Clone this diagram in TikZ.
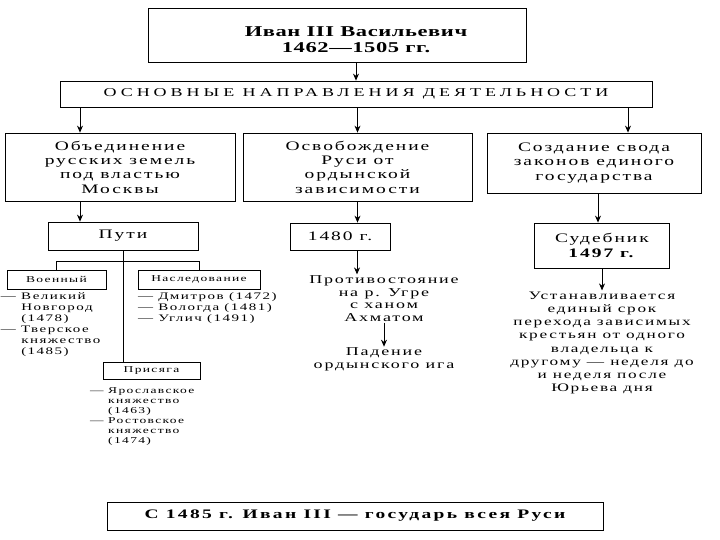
\documentclass[tikz,border=0pt]{standalone}
\usepackage{fontspec}
\setmainfont{Liberation Serif}[FakeStretch=1.5]
\newfontfamily\titlef{Liberation Serif}[FakeStretch=1.5, LetterSpace=4]
\newfontfamily\boxf{Liberation Serif}[FakeStretch=1.5, LetterSpace=15]
\newfontfamily\finalf{Liberation Serif}[FakeStretch=1.5, LetterSpace=18]
\newfontfamily\capsf{Liberation Serif}[FakeStretch=1.5, LetterSpace=33]
\usetikzlibrary{positioning, arrows.meta}

\begin{document}
\begin{tikzpicture}[x=1pt, y=-1pt, line width=0.8pt, >={Stealth[length=7pt, width=6pt]},
  box/.style = {draw, inner sep=1pt, align=center},
  txt/.style = {inner sep=1pt, align=center},
  list/.style = {inner sep=0pt, align=left},
  big/.style = {font=\boxf\fontsize{13}{14.3}\selectfont},
  small/.style = {font=\boxf\fontsize{9}{10}\selectfont}]
\useasboundingbox (0,0) rectangle (720,540);

% top
\node[box, minimum width=378, minimum height=54] (ivan) at (337,35) {};
\node[txt, font=\titlef\bfseries\fontsize{15}{16}\selectfont] (ivanname) at (356,40) {Иван III Васильевич\\1462—1505 гг.};
\node[box, minimum width=592, minimum height=26, font=\capsf\fontsize{12}{13}\selectfont] (osn) at (356,94) {ОСНОВНЫЕ НАПРАВЛЕНИЯ ДЕЯТЕЛЬНОСТИ};

% three directions
\node[box, big, minimum width=230, minimum height=68] (unite) at (120,167) {Объединение\\русских земель\\под властью\\Москвы};
\node[box, big, minimum width=229, minimum height=68] (free) at (357.5,167) {Освобождение\\Руси от\\ордынской\\зависимости};
\node[box, big, minimum width=214, minimum height=60] (code) at (594,163) {Создание свода\\законов единого\\государства};

\node[box, big, minimum width=150, minimum height=28] (puti) at (123,236) {Пути};
\node[box, big, minimum width=100, minimum height=27] (y1480) at (340,236.5) {1480 г.};
\node[box, big, minimum width=135, minimum height=45] (sud) at (602,245.5) {Судебник\\\textbf{1497 г.}};

% ways
\node[box, small, minimum width=99, minimum height=19] (war) at (56.5,279.5) {Военный};
\node[box, small, minimum width=122, minimum height=19] (heir) at (199,279.5) {Наследование};
\node[box, small, minimum width=97, minimum height=17] (oath) at (151.5,371) {Присяга};

\node[list, font=\boxf\fontsize{10}{11}\selectfont, below right=3pt and -6pt of war.south west] (warlist)
  {— Великий\\\hphantom{— }Новгород\\\hphantom{— }(1478)\\— Тверское\\\hphantom{— }княжество\\\hphantom{— }(1485)};
\node[list, font=\boxf\fontsize{10}{11}\selectfont, below right=3pt and 0pt of heir.south west] (heirlist)
  {— Дмитров (1472)\\— Вологда (1481)\\— Углич (1491)};
\node[list, small, below right=7pt and -13pt of oath.south west] (oathlist)
  {— Ярославское\\\hphantom{— }княжество\\\hphantom{— }(1463)\\— Ростовское\\\hphantom{— }княжество\\\hphantom{— }(1474)};

% results
\node[txt, font=\boxf\fontsize{12}{12.5}\selectfont, below=24pt of y1480, xshift=44pt] (ugra) {Противостояние\\на р. Угре\\с ханом\\Ахматом};
\node[txt, font=\boxf\fontsize{12}{12.5}\selectfont, below=24pt of ugra] (fall) {Падение\\ордынского ига};
\node[txt, font=\boxf\fontsize{11.5}{13.2}\selectfont, below=22pt of sud] (rule) {Устанавливается\\единый срок\\перехода зависимых\\крестьян от одного\\владельца к\\другому — неделя до\\и неделя после\\Юрьева дня};

\node[box, minimum width=496, minimum height=28, font=\finalf\bfseries\fontsize{13}{14}\selectfont] (final) at (355,516) {С 1485 г. Иван III — государь всея Руси};

\draw[->] (osn.north |- ivan.south) -- (osn.north);
\draw[->] ([xshift=-40pt]unite.north |- osn.south) -- ([xshift=-40pt]unite.north);
\draw[->] (free.north |- osn.south) -- (free.north);
\draw[->] ([xshift=34pt]code.north |- osn.south) -- ([xshift=34pt]code.north);

\draw[->] ([xshift=-40pt]unite.south) -- ([xshift=-40pt]unite.south |- puti.north);
\draw[->] (free.south) -- (free.south |- y1480.north);
\draw[->] ([xshift=4pt]code.south) -- ([xshift=4pt]code.south |- sud.north);

\draw (puti.south) -- (puti.south |- oath.north);
\draw (war.north) -- ++(0,-8) -| (heir.north);

\draw[->] ([xshift=17pt]y1480.south) -- ([xshift=17pt]y1480.south |- ugra.north);
\draw[->] (ugra.south) -- (fall.north);
\draw[->] (sud.south) -- (rule.north);
\end{tikzpicture}
\end{document}
